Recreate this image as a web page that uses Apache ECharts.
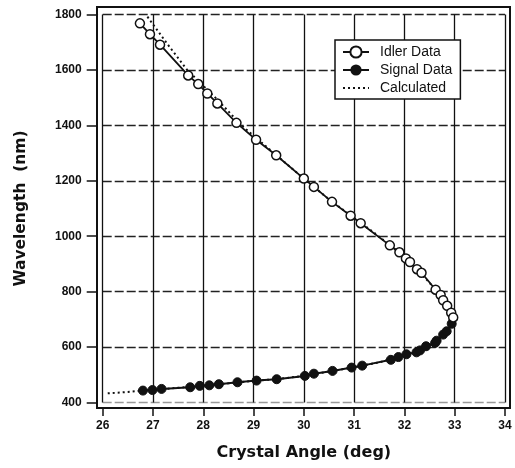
<!DOCTYPE html>
<html><head><meta charset="utf-8">
<script src="https://cdn.jsdelivr.net/npm/echarts@6/dist/echarts.min.js"></script>
<style>html,body{margin:0;padding:0;background:#fff}#c{width:515px;height:468px}</style>
</head><body><div id="c"></div>
<script>
// Crystal angle (deg) / wavelength (nm)
var idlerData = [
  [26.74,1768],[26.94,1729],[27.14,1691],[27.70,1580],[27.90,1549],[28.08,1515],
  [28.28,1479],[28.66,1409],[29.05,1348],[29.45,1292],[30.00,1208],[30.20,1178],
  [30.56,1124],[30.93,1074],[31.13,1047],[31.71,967],[31.90,942],[32.03,920],
  [32.11,907],[32.25,881],[32.34,868],[32.62,807],[32.72,788],[32.77,769],
  [32.85,749],[32.93,724],[32.97,707]
];
var signalData = [
  [26.80,443],[26.99,445],[27.17,449],[27.74,455],[27.93,460],[28.12,462],
  [28.31,466],[28.68,473],[29.06,479],[29.46,484],[30.02,496],[30.20,504],
  [30.57,514],[30.95,526],[31.16,533],[31.73,554],[31.88,564],[32.04,574],
  [32.24,581],[32.31,588],[32.43,603],[32.61,615],[32.64,623],[32.77,645],
  [32.84,657],[32.94,684]
];
var calculatedData = [
  [26.10,433],[26.50,438],[26.80,443],[27.50,453],[28.00,461],[28.50,469],
  [29.00,478],[29.50,485],[30.00,496],[30.50,512],[31.00,527],[31.50,545],
  [32.00,571],[32.30,589],[32.60,616],[32.80,650],[32.95,688],[32.99,705],
  [32.90,735],[32.75,775],[32.50,832],[32.20,890],[31.80,955],[31.40,1012],
  [31.00,1066],[30.50,1133],[30.00,1208],[29.43,1296],[28.76,1400],[28.29,1491],
  [27.68,1600],[27.28,1695],[26.87,1797]
];
var xTicks = {min:26, max:34, interval:1};
var yTicks = {min:400, max:1800, interval:200};

var chart = echarts.init(document.getElementById('c'), null, {renderer:'canvas'});
var lblFont = {fontFamily:'Liberation Sans, Arial, sans-serif', fontWeight:'bold', fontSize:12, color:'#111'};
chart.setOption({
  animation:false,
  backgroundColor:'#fff',
  grid:{left:102.7, right:10, top:14.5, bottom:65.5, containLabel:false},
  xAxis:{
    type:'value', min:xTicks.min, max:xTicks.max, interval:xTicks.interval, offset:5.5,
    name:'Crystal Angle (deg)', nameLocation:'middle', nameGap:37,
    nameTextStyle:{fontFamily:'DejaVu Sans, sans-serif', fontWeight:'bold', fontSize:16, color:'#111'},
    axisLine:{show:true, lineStyle:{color:'#111', width:2}},
    axisTick:{show:true, inside:false, length:8, lineStyle:{color:'#111', width:1.5}},
    axisLabel:Object.assign({margin:12, formatter:function(v){return String(v);}}, lblFont),
    splitLine:{show:true, lineStyle:{color:'#111', width:1.3}}
  },
  yAxis:{
    type:'value', min:yTicks.min, max:yTicks.max, interval:yTicks.interval, offset:6,
    name:'Wavelength  (nm)', nameLocation:'middle', nameGap:68, nameRotate:90,
    nameTextStyle:{fontFamily:'DejaVu Sans, sans-serif', fontWeight:'bold', fontSize:15.5, color:'#111'},
    axisLine:{show:true, lineStyle:{color:'#111', width:2}},
    axisTick:{show:true, inside:false, length:10, lineStyle:{color:'#111', width:1.5}},
    axisLabel:Object.assign({margin:15, formatter:function(v){return String(v);}}, lblFont),
    splitLine:{show:true, lineStyle:{color:['#999','#222','#222','#222','#222','#222','#222','#222'], width:1.3, type:[9,3]}}
  },
  legend:{
    orient:'vertical', left:335, top:40, padding:[5,8,4,7], itemWidth:26, itemHeight:14, itemGap:4,
    backgroundColor:'#fff', borderColor:'#111', borderWidth:1.5, borderRadius:0,
    textStyle:{fontFamily:'Liberation Sans, Arial, sans-serif', fontSize:14, color:'#111', padding:[0,0,0,6]},
    data:['Idler Data','Signal Data',{name:'Calculated', itemStyle:{color:'rgba(0,0,0,0)', borderColor:'rgba(0,0,0,0)', borderWidth:0}}]
  },
  graphic:[{
    type:'rect', shape:{x:97, y:7, width:413, height:401},
    style:{fill:'none', stroke:'#111', lineWidth:2}, silent:true, z:0
  }],
  series:[
    {name:'Calculated', type:'line', data:calculatedData, symbol:'none', z:1,
     lineStyle:{color:'#111', width:2, type:[2,3]}, itemStyle:{color:'#111'}},
    {name:'Signal Data', type:'line', data:signalData, symbol:'circle', symbolSize:9, z:3,
     lineStyle:{color:'#111', width:2}, itemStyle:{color:'#111', borderColor:'#111'}},
    {name:'Idler Data', type:'line', data:idlerData, symbol:'circle', symbolSize:9, z:4,
     lineStyle:{color:'#111', width:1.8}, itemStyle:{color:'#fff', borderColor:'#111', borderWidth:1.5}}
  ]
});
</script>
</body></html>
